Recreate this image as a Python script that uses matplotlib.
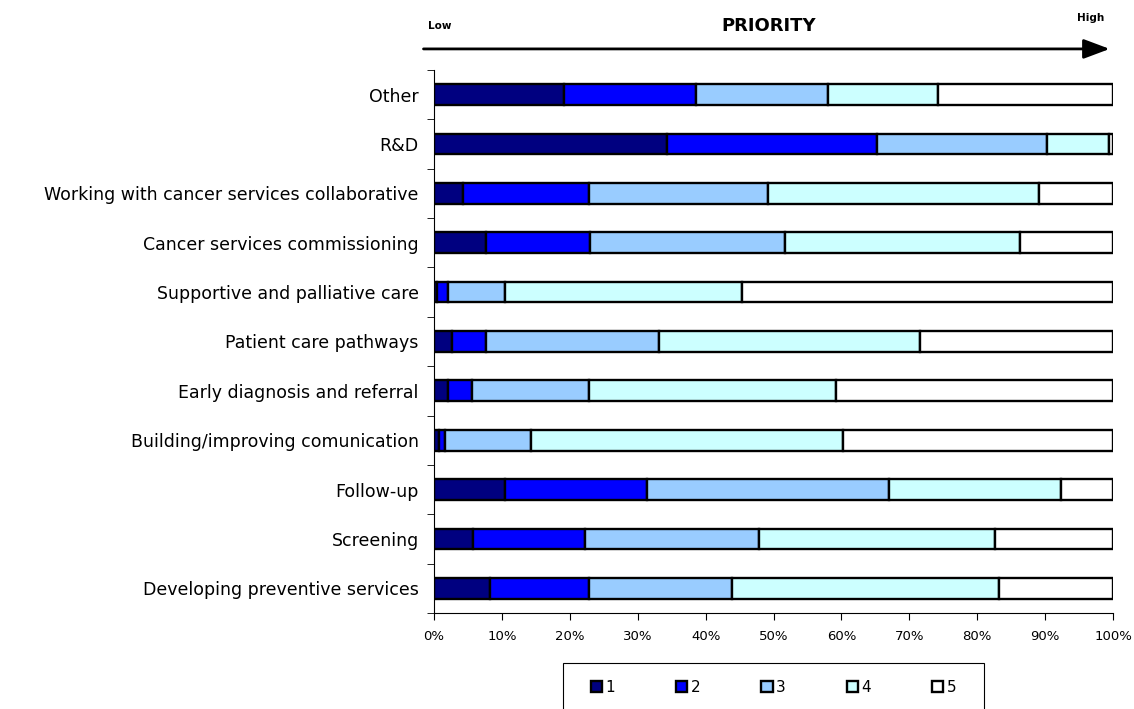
import matplotlib.pyplot as plt
from matplotlib.patches import Patch, Rectangle
import numpy as np

plt.rcParams['font.family'] = ['DejaVu Sans']

# categories, top to bottom as shown
categories = ["Other", "R&D", "Working with cancer services collaborative",
              "Cancer services commissioning", "Supportive and palliative care",
              "Patient care pathways", "Early diagnosis and referral",
              "Building/improving comunication", "Follow-up", "Screening",
              "Developing preventive services"]

# share (%) of each priority level 1..5
p1 = [19.2, 34.3, 4.3, 7.7, 0.5, 2.6, 2.1, 0.7, 10.5, 5.8, 8.3]
p2 = [19.4, 30.9, 18.6, 15.3, 1.6, 5.1, 3.5, 0.9, 20.9, 16.4, 14.6]
p3 = [19.4, 25.1, 26.3, 28.7, 8.4, 25.5, 17.3, 12.7, 35.6, 25.7, 21.0]
p4 = [16.2, 9.1, 39.9, 34.6, 34.8, 38.4, 36.3, 45.9, 25.4, 34.7, 39.3]
p5 = [25.8, 0.6, 10.9, 13.7, 54.7, 28.4, 40.8, 39.8, 7.6, 17.4, 16.8]

levels = ["1", "2", "3", "4", "5"]
colors = ["#000080", "#0000FF", "#99CCFF", "#CCFFFF", "#FFFFFF"]

fig = plt.figure(figsize=(11.34, 7.09), dpi=100)
ax = fig.add_axes([0.3827, 0.1354, 0.5988, 0.7659])

y = np.arange(len(categories))[::-1]
left = np.zeros(len(categories))
for vals, col, lab in zip([p1, p2, p3, p4, p5], colors, levels):
    ax.barh(y, vals, left=left, height=0.42, color=col, edgecolor="black",
            linewidth=1.7, label=lab)
    left += np.array(vals)

ax.set_xlim(0, 100)
ax.set_ylim(-0.5, len(categories) - 0.5)
ax.set_xticks(np.arange(0, 101, 10))
ax.set_xticklabels([f"{v}%" for v in range(0, 101, 10)], fontsize=9.5)
ax.set_yticks(y)
ax.set_yticklabels(categories, fontsize=12.5)
ax.set_yticks(np.arange(-0.5, len(categories), 1), minor=True)
ax.tick_params(axis="y", which="major", length=0, pad=11)
ax.tick_params(axis="y", which="minor", length=5, direction="out")
ax.tick_params(axis="x", length=5, direction="out", pad=7.5)
for s in ["top", "right"]:
    ax.spines[s].set_visible(False)

# priority arrow header
ax.annotate("", xy=(0.981, 0.931), xytext=(0.371, 0.931), xycoords="figure fraction",
            arrowprops=dict(arrowstyle="-|>,head_length=1.6,head_width=0.6",
                            color="black", lw=2))
fig.text(0.377, 0.963, "Low", fontsize=7.5, fontweight="bold", ha="left", va="center")
fig.text(0.678, 0.963, "PRIORITY", fontsize=13, fontweight="bold", ha="center", va="center")
fig.text(0.962, 0.975, "High", fontsize=7.5, fontweight="bold", ha="center", va="center")

# legend box (bottom runs off the figure edge)
fig.patches.append(Rectangle((563 / 1134, -0.01), 421 / 1134, 0.0748,
                             transform=fig.transFigure, facecolor="white",
                             edgecolor="black", linewidth=0.8))
handles = [Patch(facecolor=c, edgecolor="black", linewidth=1.7) for c in colors]
leg = fig.legend(handles, levels, loc="center", bbox_to_anchor=(0.682, 0.031),
                 ncol=5, frameon=False, fontsize=11,
                 handlelength=0.75, handleheight=0.75, handletextpad=0.2,
                 columnspacing=4.0, borderpad=0, borderaxespad=0)

fig.savefig("out.png", dpi=100)
